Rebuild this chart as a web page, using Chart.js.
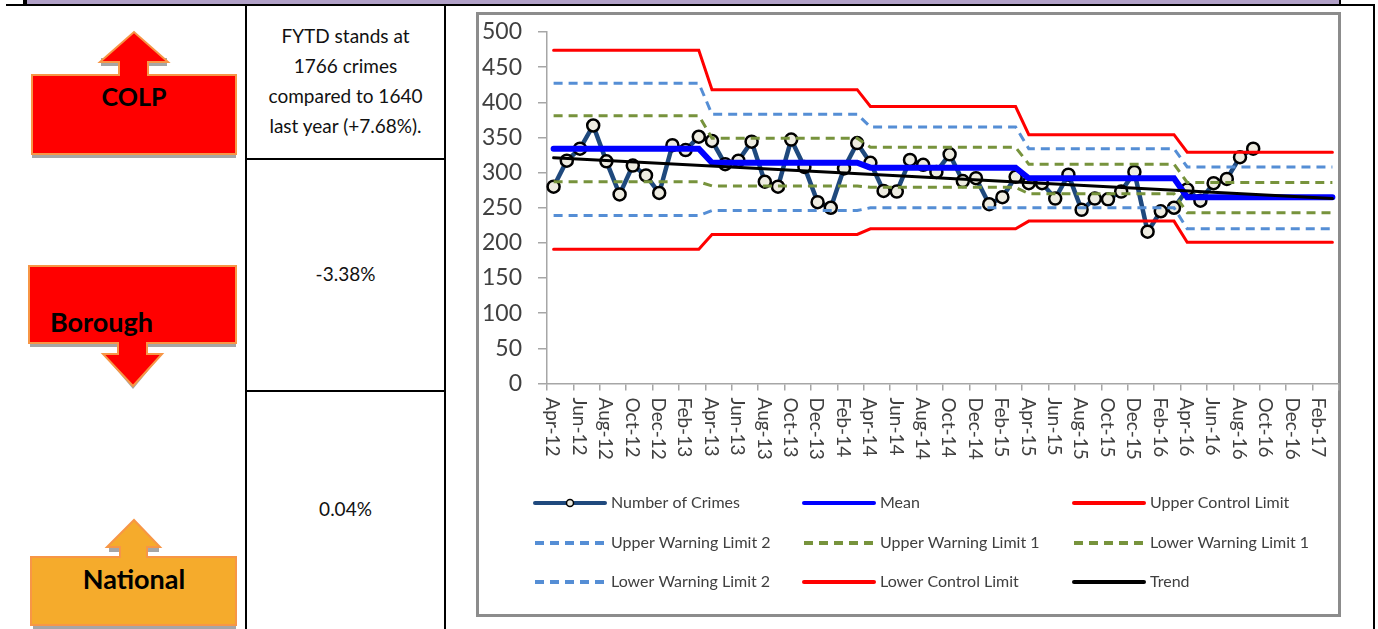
<!DOCTYPE html>
<html>
<head>
<meta charset="utf-8">
<title>Number of crimes control chart</title>
<script src="https://cdn.jsdelivr.net/npm/chart.js@4/dist/chart.umd.min.js"></script>
<style>
    html, body { margin: 0; padding: 0; background: #fff; overflow: hidden; }
    #page { position: relative; width: 1378px; height: 629px; overflow: hidden; font-family: Lato, sans-serif; color: #111; }
    .ink { position: absolute; background: #000; }
    .cell { position: absolute; left: 246px; width: 199px; text-align: center; font-size: 19px; }
    .tag { position: absolute; font-weight: 700; font-size: 27px; line-height: 30px; color: #000; white-space: nowrap; }
    #shapes { position: absolute; left: 0; top: 0; }
    #box { position: absolute; left: 476px; top: 12px; width: 865px; height: 605px; }
    #frame { position: absolute; left: 476px; top: 12px; width: 859px; height: 599px; border: 3px solid #8c8c8c; }
</style>
</head>
<body>
<div id="page">
    <div style="position:absolute;left:27px;top:0;width:1312px;height:4px;background:#b1a0c7"></div>
    <div class="ink" style="left:6px;top:4px;width:1369px;height:2px"></div>
    <div class="ink" style="left:23px;top:0;width:4px;height:4px"></div>
    <div class="ink" style="left:1339px;top:0;width:2px;height:4px"></div>
    <div class="ink" style="left:1373px;top:4px;width:2px;height:625px"></div>
    <div class="ink" style="left:245px;top:6px;width:2px;height:623px"></div>
    <div class="ink" style="left:444px;top:6px;width:2px;height:623px"></div>
    <div class="ink" style="left:246px;top:158px;width:199px;height:2px"></div>
    <div class="ink" style="left:246px;top:390px;width:199px;height:2px"></div>

    <svg id="shapes" width="246" height="629">
        <path d="M32 158 H236 V150 H32 Z M101 66 H167 V58 H101 Z" fill="#a6a6a6"/>
        <path d="M32 154 V75 H119 V62 H100 L134 32 L168 62 H148 V75 H236 V154 Z" fill="#ff0000" stroke="#f79646" stroke-width="2"/>
        <path d="M30 347 H236 V340 H30 Z M103 354 L133 389 L162 354 Z" fill="#a6a6a6"/>
        <path d="M29 343 V266 H236 V343 H147 V354 H162 L133 386 L103 354 H118 V343 Z" fill="#ff0000" stroke="#f79646" stroke-width="2"/>
        <path d="M33 629 H236 V620 H33 Z M109 552 H159 V545 H109 Z" fill="#a6a6a6"/>
        <path d="M31 625 V557 H120 V547 H107 L134 520 L160 547 H147 V557 H236 V625 Z" fill="#f5ab2c" stroke="#f79646" stroke-width="2"/>
    </svg>
    <div class="tag" style="left:32px;top:81px;width:204px;text-align:center;font-size:25px">COLP</div>
    <div class="tag" style="left:50px;top:307px">Borough</div>
    <div class="tag" style="left:32px;top:564px;width:204px;text-align:center">National</div>

    <div class="cell" style="top:21px;line-height:30px">FYTD stands at<br>1766 crimes<br>compared to 1640<br>last year (+7.68%).</div>
    <div class="cell" style="top:259px;line-height:30px">-3.38%</div>
    <div class="cell" style="top:494px;line-height:30px">0.04%</div>

    <div id="frame"></div>
    <div id="box"><canvas id="crimes-chart" width="865" height="605"></canvas></div>
</div>

<script>
const months = [
    "Apr-12", "May-12", "Jun-12", "Jul-12", "Aug-12", "Sep-12", "Oct-12", "Nov-12", "Dec-12", "Jan-13", "Feb-13", "Mar-13",
    "Apr-13", "May-13", "Jun-13", "Jul-13", "Aug-13", "Sep-13", "Oct-13", "Nov-13", "Dec-13", "Jan-14", "Feb-14", "Mar-14",
    "Apr-14", "May-14", "Jun-14", "Jul-14", "Aug-14", "Sep-14", "Oct-14", "Nov-14", "Dec-14", "Jan-15", "Feb-15", "Mar-15",
    "Apr-15", "May-15", "Jun-15", "Jul-15", "Aug-15", "Sep-15", "Oct-15", "Nov-15", "Dec-15", "Jan-16", "Feb-16", "Mar-16",
    "Apr-16", "May-16", "Jun-16", "Jul-16", "Aug-16", "Sep-16", "Oct-16", "Nov-16", "Dec-16", "Jan-17", "Feb-17", "Mar-17",
];

const yTicks = [0, 50, 100, 150, 200, 250, 300, 350, 400, 450, 500];

const numberOfCrimes = [
    280, 317, 334, 367, 316, 269, 310, 296, 271, 339, 332, 351,
    345, 312, 317, 344, 287, 280, 347, 308, 258, 250, 306, 342,
    314, 274, 273, 318, 311, 301, 326, 288, 292, 255, 265, 294,
    285, 285, 263, 297, 247, 263, 262, 273, 301, 216, 245, 250,
    276, 260, 285, 291, 322, 334, null, null, null, null, null, null,
];

const mean = [
    334, 334, 334, 334, 334, 334, 334, 334, 334, 334, 334, 334,
    314, 314, 314, 314, 314, 314, 314, 314, 314, 314, 314, 314,
    307, 307, 307, 307, 307, 307, 307, 307, 307, 307, 307, 307,
    292, 292, 292, 292, 292, 292, 292, 292, 292, 292, 292, 292,
    265, 265, 265, 265, 265, 265, 265, 265, 265, 265, 265, 265,
];

const upperControl = [
    474, 474, 474, 474, 474, 474, 474, 474, 474, 474, 474, 474,
    418, 418, 418, 418, 418, 418, 418, 418, 418, 418, 418, 418,
    394, 394, 394, 394, 394, 394, 394, 394, 394, 394, 394, 394,
    354, 354, 354, 354, 354, 354, 354, 354, 354, 354, 354, 354,
    329, 329, 329, 329, 329, 329, 329, 329, 329, 329, 329, 329,
];

const upperWarning2 = [
    427, 427, 427, 427, 427, 427, 427, 427, 427, 427, 427, 427,
    383, 383, 383, 383, 383, 383, 383, 383, 383, 383, 383, 383,
    365, 365, 365, 365, 365, 365, 365, 365, 365, 365, 365, 365,
    334, 334, 334, 334, 334, 334, 334, 334, 334, 334, 334, 334,
    308, 308, 308, 308, 308, 308, 308, 308, 308, 308, 308, 308,
];

const upperWarning1 = [
    381, 381, 381, 381, 381, 381, 381, 381, 381, 381, 381, 381,
    349, 349, 349, 349, 349, 349, 349, 349, 349, 349, 349, 349,
    336, 336, 336, 336, 336, 336, 336, 336, 336, 336, 336, 336,
    312, 312, 312, 312, 312, 312, 312, 312, 312, 312, 312, 312,
    286, 286, 286, 286, 286, 286, 286, 286, 286, 286, 286, 286,
];

const lowerWarning1 = [
    287, 287, 287, 287, 287, 287, 287, 287, 287, 287, 287, 287,
    281, 281, 281, 281, 281, 281, 281, 281, 281, 281, 281, 281,
    279, 279, 279, 279, 279, 279, 279, 279, 279, 279, 279, 279,
    270, 270, 270, 270, 270, 270, 270, 270, 270, 270, 270, 270,
    243, 243, 243, 243, 243, 243, 243, 243, 243, 243, 243, 243,
];

const lowerWarning2 = [
    239, 239, 239, 239, 239, 239, 239, 239, 239, 239, 239, 239,
    246, 246, 246, 246, 246, 246, 246, 246, 246, 246, 246, 246,
    250, 250, 250, 250, 250, 250, 250, 250, 250, 250, 250, 250,
    250, 250, 250, 250, 250, 250, 250, 250, 250, 250, 250, 250,
    220, 220, 220, 220, 220, 220, 220, 220, 220, 220, 220, 220,
];

const lowerControl = [
    191, 191, 191, 191, 191, 191, 191, 191, 191, 191, 191, 191,
    212, 212, 212, 212, 212, 212, 212, 212, 212, 212, 212, 212,
    220, 220, 220, 220, 220, 220, 220, 220, 220, 220, 220, 220,
    231, 231, 231, 231, 231, 231, 231, 231, 231, 231, 231, 231,
    201, 201, 201, 201, 201, 201, 201, 201, 201, 201, 201, 201,
];

const trend = [
    321, null, null, null, null, null, null, null, null, null, null, null,
    null, null, null, null, null, null, null, null, null, null, null, null,
    null, null, null, null, null, null, null, null, null, null, null, null,
    null, null, null, null, null, null, null, null, null, null, null, null,
    null, null, null, null, null, null, null, null, null, null, null, 263,
];

const legendOrder = [
    "Number of Crimes", "Mean", "Upper Control Limit",
    "Upper Warning Limit 2", "Upper Warning Limit 1", "Lower Warning Limit 1",
    "Lower Warning Limit 2", "Lower Control Limit", "Trend",
];

const dashed = [9, 6];

function limitLine(label, data, color, width, dash, order) {
    return {
        label: label,
        data: data,
        borderColor: color,
        backgroundColor: color,
        borderWidth: width,
        borderDash: dash || [],
        borderCapStyle: dash ? "butt" : "round",
        pointRadius: 0,
        tension: 0,
        order: order,
    };
}

// Rotated labels read downwards, which the category scale can't align itself
const monthLabels = {
    id: "monthLabels",
    afterDraw(chart) {
        const ctx = chart.ctx;
        const scale = chart.scales.x;
        ctx.save();
        ctx.font = "19px Lato";
        ctx.fillStyle = "#404040";
        ctx.textAlign = "left";
        ctx.textBaseline = "middle";
        months.forEach((month, i) => {
            if (i % 2) return;
            ctx.save();
            ctx.translate(scale.getPixelForTick(i) - 1, scale.top + 14);
            ctx.rotate(Math.PI / 2);
            ctx.fillText(month, 0, 0);
            ctx.restore();
        });
        ctx.restore();
    },
};

// Legend in three fixed columns, as the spreadsheet lays it out
const gridLegend = {
    id: "gridLegend",
    afterDraw(chart) {
        const ctx = chart.ctx;
        const columns = [59, 328, 598];
        const rows = [491, 531, 570];
        ctx.save();
        ctx.font = "16px Lato";
        ctx.textBaseline = "middle";
        ctx.textAlign = "left";
        legendOrder.forEach((label, i) => {
            const ds = chart.data.datasets.find((d) => d.label === label);
            const x = columns[i % 3];
            const y = rows[Math.floor(i / 3)];
            ctx.save();
            ctx.strokeStyle = ds.borderColor;
            ctx.lineWidth = 4;
            ctx.setLineDash(ds.borderDash || []);
            ctx.lineCap = ds.borderDash && ds.borderDash.length ? "butt" : "round";
            ctx.beginPath();
            ctx.moveTo(x, y);
            ctx.lineTo(x + 70, y);
            ctx.stroke();
            if (ds.pointRadius) {
                ctx.setLineDash([]);
                ctx.lineWidth = 1.5;
                ctx.strokeStyle = "#000";
                ctx.fillStyle = ds.pointBackgroundColor;
                ctx.beginPath();
                ctx.arc(x + 35, y, 3.5, 0, Math.PI * 2);
                ctx.fill();
                ctx.stroke();
            }
            ctx.restore();
            ctx.fillStyle = "#404040";
            ctx.fillText(label, x + 76, y);
        });
        ctx.restore();
    },
};

const chart = new Chart(document.getElementById("crimes-chart"), {
    type: "line",
    data: {
        labels: months,
        datasets: [
            {
                label: "Number of Crimes",
                data: numberOfCrimes,
                borderColor: "#1f497d",
                backgroundColor: "#1f497d",
                borderWidth: 4.5,
                pointRadius: 6,
                pointBorderWidth: 2.5,
                pointBackgroundColor: "#eeece1",
                pointBorderColor: "#000",
                tension: 0,
                order: 8,
            },
            limitLine("Mean", mean, "#0000ff", 6, null, 7),
            limitLine("Upper Control Limit", upperControl, "#ff0000", 3, null, 6),
            limitLine("Upper Warning Limit 2", upperWarning2, "#558ed5", 3, dashed, 5),
            limitLine("Upper Warning Limit 1", upperWarning1, "#77933c", 3, dashed, 4),
            limitLine("Lower Warning Limit 1", lowerWarning1, "#77933c", 3, dashed, 3),
            limitLine("Lower Warning Limit 2", lowerWarning2, "#558ed5", 3, dashed, 2),
            limitLine("Lower Control Limit", lowerControl, "#ff0000", 3, null, 1),
            Object.assign(limitLine("Trend", trend, "#000000", 3, null, 0), { spanGaps: true }),
        ],
    },
    options: {
        responsive: false,
        animation: false,
        events: [],
        layout: {
            autoPadding: false,
            padding: { top: 20, right: 2, left: 0, bottom: 0 },
        },
        plugins: {
            legend: { display: false },
            title: { display: false },
            tooltip: { enabled: false },
        },
        scales: {
            x: {
                offset: true,
                afterFit(scale) {
                    scale.height = 233.5;
                },
                grid: {
                    offset: true,
                    drawOnChartArea: false,
                    tickLength: 7,
                    tickColor: (c) => (c.index % 2 ? "transparent" : "#a6a6a6"),
                    lineWidth: 1.5,
                },
                border: { color: "#a6a6a6", width: 1.5 },
                ticks: { display: false },
            },
            y: {
                min: 0,
                max: 500,
                afterFit(scale) {
                    scale.width = 71;
                    // tick padding would otherwise push the plot's top edge down
                    scale.paddingTop = 0;
                    scale.paddingBottom = 0;
                },
                afterBuildTicks(scale) {
                    scale.ticks = yTicks.map((v) => ({ value: v }));
                },
                grid: {
                    drawOnChartArea: false,
                    tickLength: 9,
                    tickColor: "#a6a6a6",
                    lineWidth: 1.5,
                },
                border: { color: "#a6a6a6", width: 1.5 },
                ticks: {
                    color: "#404040",
                    font: { family: "Lato", size: 23 },
                    padding: 16,
                },
            },
        },
    },
    plugins: [monthLabels, gridLegend],
});
</script>
</body>
</html>
